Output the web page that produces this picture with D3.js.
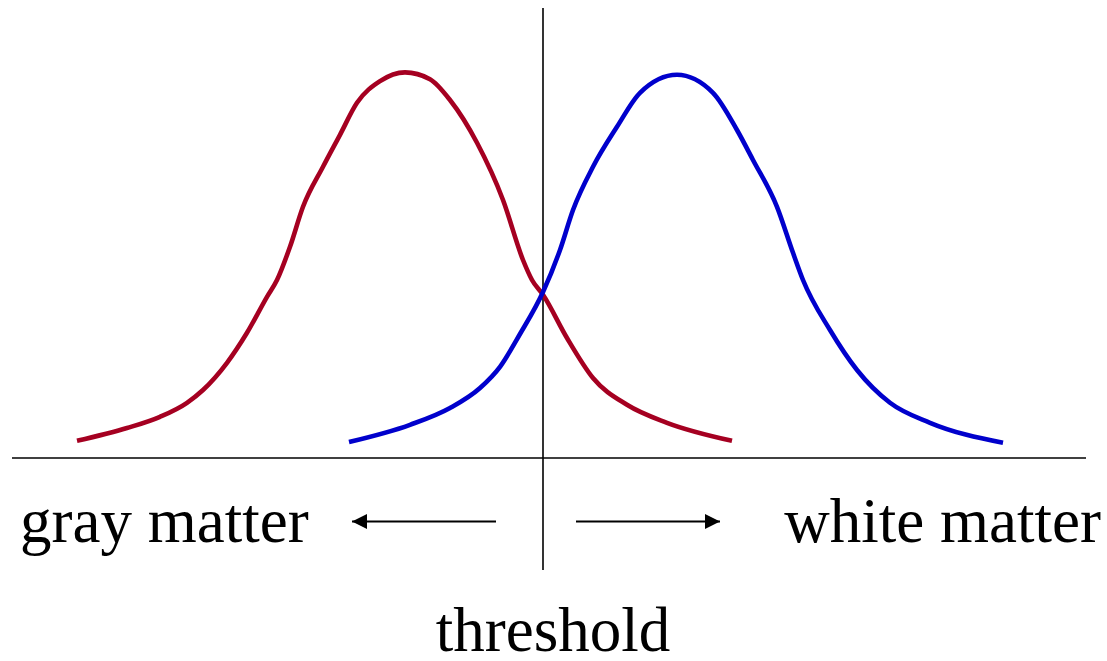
<!DOCTYPE html>
<html>
<head>
<meta charset="utf-8">
<script src="https://cdn.jsdelivr.net/npm/d3@7"></script>
<style>
  html, body { margin: 0; padding: 0; background: #fff; }
  svg { display: block; }
  text { font-family: "Liberation Serif", "Times New Roman", serif; fill: #000; }
</style>
</head>
<body>
<svg id="chart" width="1107" height="661"></svg>
<script>
// ---- data (intensity relative to threshold, relative frequency) ----
const grayX = [-4.66,-4.16,-3.83,-3.56,-3.40,-3.16,-2.96,-2.76,-2.66,-2.53,-2.40,-2.20,-2.03,-1.86,-1.63,-1.38,-1.13,-0.93,-0.66,-0.40,-0.20,-0.11,0.00,0.24,0.50,0.84,1.24,1.89];
const grayY = [0.043,0.075,0.103,0.138,0.170,0.238,0.313,0.403,0.445,0.528,0.628,0.728,0.808,0.888,0.942,0.964,0.947,0.895,0.788,0.645,0.495,0.445,0.408,0.300,0.200,0.133,0.088,0.043];
const whiteX = [-1.94,-1.33,-0.93,-0.63,-0.43,-0.23,0.00,0.17,0.30,0.50,0.74,0.97,1.34,1.70,1.94,2.10,2.34,2.50,2.60,2.87,3.14,3.47,3.87,4.60];
const whiteY = [0.040,0.083,0.125,0.175,0.228,0.310,0.415,0.520,0.620,0.728,0.828,0.913,0.958,0.913,0.820,0.745,0.628,0.513,0.445,0.320,0.220,0.138,0.088,0.038];
const thresholdValue = 0;
const labels = ["gray matter", "white matter", "threshold"];

// ---- layout ----
const svg = d3.select("#chart");
const x = d3.scaleLinear().domain([-5.31, 5.43]).range([12, 1086]);
const y = d3.scaleLinear().domain([0, 1]).range([458, 58]);

const line = d3.line()
  .x(d => x(d[0]))
  .y(d => y(d[1]))
  .curve(d3.curveMonotoneX);

const series = [
  { xs: grayX, ys: grayY, color: "#a50021" },
  { xs: whiteX, ys: whiteY, color: "#0000cc" }
];

// baseline axis
svg.append("line")
  .attr("x1", x.range()[0]).attr("x2", x.range()[1])
  .attr("y1", y(0)).attr("y2", y(0))
  .attr("stroke", "#000").attr("stroke-width", 1.6);

// threshold line
svg.append("line")
  .attr("x1", x(thresholdValue)).attr("x2", x(thresholdValue))
  .attr("y1", 8).attr("y2", 570)
  .attr("stroke", "#000").attr("stroke-width", 1.6);

// curves
series.forEach(s => {
  svg.append("path")
    .datum(s.xs.map((v, i) => [v, s.ys[i]]))
    .attr("d", line)
    .attr("fill", "none")
    .attr("stroke", s.color)
    .attr("stroke-width", 4.6)
    .attr("stroke-linejoin", "round");
});

// arrows
const defs = svg.append("defs");
defs.append("marker")
  .attr("id", "head")
  .attr("viewBox", "0 0 16 16")
  .attr("refX", 16).attr("refY", 8)
  .attr("markerUnits", "userSpaceOnUse")
  .attr("markerWidth", 16).attr("markerHeight", 15)
  .attr("orient", "auto")
  .append("path")
  .attr("d", "M0,0 L16,8 L0,16 Z")
  .attr("fill", "#000");

const arrowY = 521.5;
svg.append("line")
  .attr("x1", x(-0.47)).attr("x2", x(-1.91))
  .attr("y1", arrowY).attr("y2", arrowY)
  .attr("stroke", "#000").attr("stroke-width", 2)
  .attr("marker-end", "url(#head)");
svg.append("line")
  .attr("x1", x(0.33)).attr("x2", x(1.77))
  .attr("y1", arrowY).attr("y2", arrowY)
  .attr("stroke", "#000").attr("stroke-width", 2)
  .attr("marker-end", "url(#head)");

// labels
svg.append("text")
  .attr("x", 20).attr("y", 542)
  .attr("font-size", 63)
  .text(labels[0]);
svg.append("text")
  .attr("x", 1101).attr("y", 542)
  .attr("font-size", 63)
  .attr("text-anchor", "end")
  .text(labels[1]);
svg.append("text")
  .attr("x", 553).attr("y", 651)
  .attr("font-size", 63)
  .attr("text-anchor", "middle")
  .text(labels[2]);
</script>
</body>
</html>
